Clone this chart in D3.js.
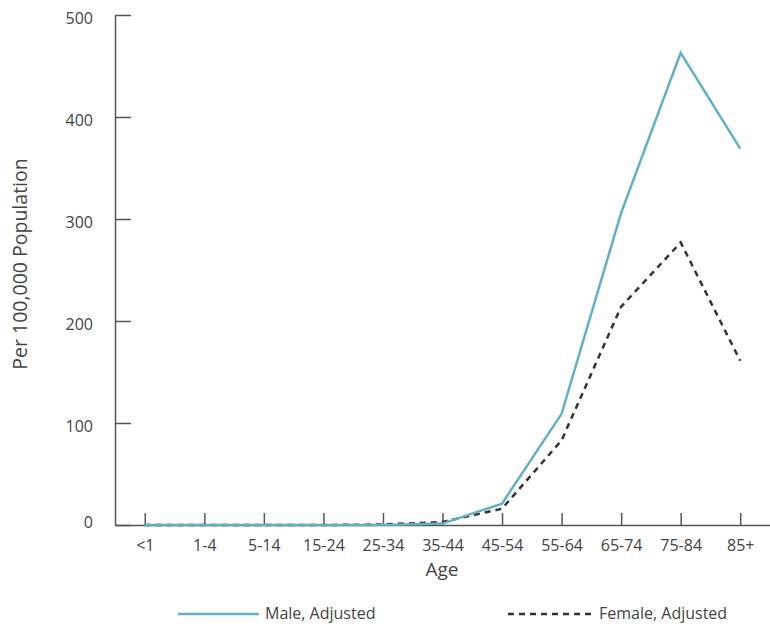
<!DOCTYPE html>
<html><head><meta charset="utf-8">
<script src="https://cdn.jsdelivr.net/npm/d3@7"></script>
<style>body{margin:0;background:#fff}text{font-family:"Open Sans",sans-serif;fill:#444}</style>
</head><body><svg id="c" width="770" height="624"></svg>
<script>
const categories = ["<1","1-4","5-14","15-24","25-34","35-44","45-54","55-64","65-74","75-84","85+"];
const maleAdjusted = [0,0,0,0,0,1.4,21,109,306,463,369];
const femaleAdjusted = [0,0,0,0,0.5,3,16,83,214,277,161];
const yTicks = [0,100,200,300,400,500];
const seriesNames = ["Male, Adjusted","Female, Adjusted"];

const svg = d3.select("#c");
const x = d3.scalePoint().domain(categories).range([115,770]).padding(0.5);
const y = d3.scaleLinear().domain([0,500]).range([525,15]);

const xAxis = svg.append("g").attr("transform","translate(0,525)")
  .call(d3.axisBottom(x).tickSizeInner(-12).tickSizeOuter(0));
const yAxis = svg.append("g").attr("transform","translate(115,0)")
  .call(d3.axisLeft(y).tickValues(yTicks).tickSizeInner(-16).tickSizeOuter(0));
[xAxis,yAxis].forEach(g=>{
  g.select(".domain").attr("stroke","#555").attr("stroke-width",1.5);
  g.selectAll(".tick line").attr("stroke","#555").attr("stroke-width",1.5);
  g.selectAll(".tick text").style("font-size","16px").style("fill","#444");
});
xAxis.selectAll(".tick text").attr("y",26).attr("dy","0");
yAxis.selectAll(".tick text").attr("x",-22).attr("dy",d=> d===0 ? "0.15em" : "0.5em");

const line = d3.line().x((d,i)=>x(categories[i])).y(d=>y(d));
svg.append("path").datum(femaleAdjusted).attr("d",line).attr("fill","none")
  .attr("stroke","#333").attr("stroke-width",2.5).attr("stroke-dasharray","6,5");
svg.append("path").datum(maleAdjusted).attr("d",line).attr("fill","none")
  .attr("stroke","#64aec6").attr("stroke-width",2.5);

svg.append("text").attr("x",442).attr("y",576).attr("text-anchor","middle")
  .style("font-size","19px").text("Age");
svg.append("text").attr("transform","translate(27,264) rotate(-90)").attr("text-anchor","middle")
  .style("font-size","19.5px").text("Per 100,000 Population");

const lg = svg.append("g");
lg.append("line").attr("x1",178).attr("x2",259).attr("y1",614).attr("y2",614)
  .attr("stroke","#64aec6").attr("stroke-width",2.5);
lg.append("text").attr("x",265).attr("y",618.5).style("font-size","16px").text(seriesNames[0]);
lg.append("line").attr("x1",508).attr("x2",594).attr("y1",614).attr("y2",614)
  .attr("stroke","#333").attr("stroke-width",2.5).attr("stroke-dasharray","6,5");
lg.append("text").attr("x",599).attr("y",618.5).style("font-size","16px").text(seriesNames[1]);
</script></body></html>
